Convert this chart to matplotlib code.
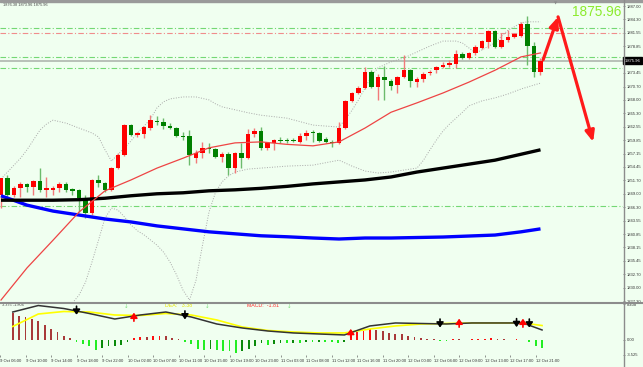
import matplotlib
matplotlib.use('Agg')
import matplotlib.pyplot as plt
import matplotlib.transforms as mtransforms
from matplotlib.patches import Rectangle
from matplotlib.lines import Line2D

plt.rcParams['font.family'] = ['Liberation Sans', 'DejaVu Sans']

# --- bougies H1, 9 Oct 08:00 -> 12 Oct 21:00 ---
opens = [1848.8, 1852.2, 1848.8, 1850.2, 1851.0, 1850.4, 1851.6, 1849.8, 1849.8, 1850.2,
         1851.0, 1850.0, 1849.8, 1847.7, 1845.1, 1851.8, 1851.2, 1849.8, 1854.2, 1856.9,
         1862.9, 1860.9, 1861.1, 1862.3, 1863.7, 1863.5, 1862.7, 1862.3, 1860.7, 1860.7,
         1856.2, 1857.2, 1858.3, 1858.1, 1856.4, 1857.0, 1854.2, 1857.2, 1856.2, 1861.1,
         1861.7, 1858.3, 1859.3, 1859.9, 1859.9, 1859.9, 1859.5, 1860.7, 1861.5, 1861.3,
         1860.1, 1859.5, 1859.3, 1862.3, 1867.8, 1869.4, 1870.4, 1873.6, 1870.6, 1872.6,
         1871.8, 1871.0, 1872.6, 1874.0, 1871.6, 1872.2, 1873.4, 1874.0, 1874.7, 1875.1,
         1875.3, 1877.3, 1876.5, 1877.5, 1878.5, 1879.7, 1881.9, 1878.7, 1880.1, 1880.7,
         1880.9, 1883.4, 1878.9, 1873.6]
highs = [1852.2, 1852.8, 1850.6, 1851.4, 1851.2, 1851.8, 1854.2, 1852.4, 1850.6, 1851.4,
         1851.4, 1850.2, 1850.0, 1848.8, 1852.0, 1852.8, 1851.4, 1854.4, 1857.2, 1863.1,
         1863.1, 1861.5, 1862.7, 1864.9, 1864.7, 1864.3, 1863.3, 1862.5, 1861.5, 1861.9,
         1857.9, 1859.5, 1859.3, 1858.3, 1857.4, 1857.4, 1857.4, 1859.3, 1862.1, 1862.3,
         1862.5, 1859.5, 1860.1, 1860.5, 1860.3, 1860.3, 1861.3, 1861.9, 1861.9, 1861.5,
         1860.5, 1859.9, 1863.5, 1868.0, 1869.6, 1870.8, 1874.7, 1874.0, 1873.2, 1874.9,
         1872.2, 1872.8, 1877.1, 1874.3, 1872.6, 1873.6, 1874.0, 1874.9, 1875.7, 1876.1,
         1878.1, 1877.7, 1877.7, 1879.1, 1880.1, 1882.1, 1882.1, 1881.5, 1882.1, 1881.5,
         1883.8, 1885.0, 1879.7, 1876.38]
lows = [1846.1, 1848.4, 1848.4, 1848.4, 1849.4, 1848.8, 1849.4, 1848.4, 1848.8, 1849.4,
        1849.4, 1848.8, 1845.3, 1844.1, 1844.7, 1850.4, 1849.4, 1849.6, 1854.0, 1856.6,
        1860.7, 1860.5, 1860.3, 1861.9, 1862.9, 1862.1, 1862.1, 1860.5, 1859.9, 1854.8,
        1855.2, 1856.2, 1857.2, 1856.2, 1855.4, 1852.8, 1853.2, 1854.2, 1856.0, 1860.5,
        1857.9, 1857.9, 1857.9, 1859.3, 1859.3, 1859.5, 1859.3, 1859.9, 1859.5, 1859.5,
        1859.3, 1858.5, 1859.1, 1862.1, 1867.6, 1869.2, 1870.2, 1870.4, 1868.0, 1868.0,
        1870.0, 1869.4, 1872.4, 1870.6, 1870.6, 1871.6, 1873.0, 1873.4, 1874.5, 1874.7,
        1874.5, 1876.3, 1876.3, 1877.1, 1878.3, 1878.5, 1878.5, 1878.5, 1879.7, 1880.5,
        1880.7, 1875.1, 1872.6, 1873.0]
closes = [1852.2, 1848.8, 1850.2, 1851.0, 1850.4, 1851.6, 1849.8, 1850.2, 1850.2, 1851.0,
          1849.8, 1849.6, 1848.1, 1845.1, 1851.8, 1851.2, 1849.8, 1854.2, 1856.9, 1862.9,
          1860.9, 1861.3, 1862.5, 1863.9, 1863.5, 1862.7, 1862.3, 1860.7, 1860.5, 1856.8,
          1857.2, 1858.3, 1858.1, 1856.4, 1857.0, 1854.2, 1857.2, 1856.2, 1861.1, 1861.7,
          1858.3, 1859.3, 1859.9, 1859.7, 1859.7, 1859.7, 1860.7, 1861.3, 1861.3, 1859.7,
          1859.5, 1859.3, 1862.3, 1867.8, 1869.4, 1870.4, 1873.6, 1870.6, 1872.6, 1872.0,
          1870.8, 1872.6, 1874.0, 1871.8, 1872.2, 1873.2, 1873.6, 1874.7, 1875.1, 1875.5,
          1877.3, 1876.5, 1877.5, 1878.7, 1879.9, 1881.9, 1878.7, 1880.1, 1880.7, 1881.3,
          1883.4, 1878.9, 1873.6, 1875.96]

# moyennes mobiles (lues toutes les 4 bougies)
line_bars = list(range(0, 84, 4)) + [83]
ma_red = [1827.5, 1834.0, 1839.6, 1845.3, 1849.6, 1851.8, 1854.2, 1856.2, 1858.3, 1859.3, 1859.5,
          1859.0, 1858.7, 1859.5, 1862.3, 1865.5, 1867.4, 1869.4, 1871.6, 1874.0, 1876.7, 1877.5]
ma_black = [1847.7, 1847.7, 1847.7, 1847.8, 1848.1, 1848.6, 1849.0, 1849.2, 1849.6, 1849.8, 1850.1,
            1850.5, 1851.0, 1851.4, 1851.8, 1852.4, 1853.4, 1854.2, 1855.0, 1855.8, 1857.0, 1857.9]
ma_blue = [1848.6, 1846.7, 1845.5, 1844.7, 1843.9, 1843.3, 1842.5, 1841.9, 1841.3, 1840.9, 1840.5,
           1840.3, 1840.05, 1839.85, 1840.05, 1840.05, 1840.15, 1840.25, 1840.45, 1840.65, 1841.3, 1841.9]

# bandes de Bollinger
bb_up_bars = [0, 1, 2, 3, 4, 5, 6, 7, 8, 10, 12, 14, 15, 16, 17, 18, 19, 20, 21, 22, 23, 24, 25, 26,
              28, 30, 32, 33, 34, 36, 38, 40, 44, 48, 52, 53, 54, 55, 56, 57, 58, 60, 62, 64, 66, 68,
              70, 71, 72, 73, 74, 75, 76, 77, 78, 79, 80, 81, 83]
bb_up = [1852.0, 1853.4, 1854.8, 1856.2, 1857.9, 1859.9, 1861.9, 1863.1, 1863.9, 1863.3, 1862.3,
         1861.3, 1860.5, 1857.9, 1855.6, 1857.0, 1858.3, 1859.7, 1861.3, 1862.7, 1864.1, 1866.4,
         1867.6, 1868.2, 1868.6, 1868.6, 1868.0, 1867.2, 1866.6, 1866.0, 1865.4, 1864.9, 1864.3,
         1862.9, 1862.5, 1864.1, 1865.9, 1868.0, 1870.4, 1872.8, 1874.5, 1875.7, 1876.5, 1877.7,
         1878.9, 1879.9, 1879.9, 1879.5, 1878.5, 1877.5, 1878.1, 1878.9, 1879.5, 1880.9, 1882.1,
         1882.8, 1883.6, 1883.8, 1883.8]
bb_low_bars = [11, 12, 13, 14, 15, 16, 17, 18, 19, 20, 21, 22, 24, 25, 26, 27, 28, 29, 30, 31, 32,
               33, 34, 35, 36, 38, 40, 44, 48, 52, 54, 56, 58, 60, 62, 64, 65, 66, 67, 68, 69, 70,
               71, 72, 74, 76, 78, 80, 82, 83]
bb_low = [1826.9, 1828.5, 1831.1, 1835.2, 1839.6, 1844.1, 1846.1, 1845.7, 1844.3, 1842.7, 1841.5,
          1840.7, 1838.6, 1837.2, 1835.2, 1832.6, 1829.5, 1827.5, 1831.5, 1838.6, 1845.3, 1849.3,
          1851.4, 1852.6, 1853.4, 1854.0, 1854.2, 1854.6, 1854.8, 1855.8, 1854.6, 1853.6, 1853.2,
          1853.4, 1853.8, 1854.2, 1855.8, 1857.9, 1859.9, 1861.7, 1863.1, 1864.3, 1865.5, 1866.8,
          1867.8, 1868.4, 1869.2, 1870.2, 1871.0, 1871.4]

# niveaux horizontaux
green_levels = [1882.55, 1876.7, 1874.45, 1846.5]
red_levels = [1881.5]
bid = 1875.96

# fleche de prevision
forecast_bars = [83.4, 85.7, 91.1]
forecast_prices = [1876.1, 1884.8, 1859.5]

# MACD
macd_hist = [6.3, 5.7, 5.45, 4.9, 4.4, 3.6, 2.6, 1.8, 1.0, 0.47,
             -0.4, -0.9, -1.5, -2.3, -1.9, -1.5, -1.3, -1.1, -0.5,
             0.45, 0.8, 0.8, 0.85, 1.0, 0.85, 0.45, 0.15,
             -0.5, -0.9, -2.1, -2.3, -2.1, -2.3, -2.6, -2.6, -3.0, -2.6, -2.1, -1.3, -0.8, -1.1,
             -0.9, -0.8, -0.8, -0.7, -0.7, -0.5, -0.5, -0.4, -0.4, -0.5, -0.7, -0.4,
             1.4, 1.8, 2.2, 2.6, 2.3, 2.0, 1.6, 1.4, 1.4, 1.0, 0.6, 0.4, 0.25, 0.15,
             -0.15, -0.15,
             0.15, 0.15, 0.1, 0.15, 0.2, 0.3, 0.45, 0.2, 0.15, 0.1, 0.15, 0.1,
             -0.5, -1.3, -1.9]
macd_dif = [6.55, 8.07, 7.37, 6.2, 4.91, 5.85, 6.55, 5.38, 3.74, 2.8, 2.1,
            1.64, 1.4, 1.17, 3.28, 3.98, 3.86, 3.74, 3.98, 3.98, 3.98, 2.34]
macd_dea = [3.16, 6.08, 6.67, 6.55, 5.85, 5.73, 6.2, 5.85, 4.68, 3.04, 2.22,
            1.87, 1.64, 1.64, 2.57, 3.28, 3.74, 3.86, 3.98, 3.98, 3.98, 3.38]
sell_bars = [10, 27, 67, 79, 81]
sell_vals = [6.9, 5.8, 3.9, 4.0, 3.9]
buy_bars = [19, 53, 70, 80]
buy_vals = [5.4, 1.6, 4.0, 4.0]

# axe du temps
tick_bars = list(range(-2, 84, 4))
tick_labels = ['9 Oct 06:00', '9 Oct 10:00', '9 Oct 14:00', '9 Oct 18:00', '9 Oct 22:00',
               '10 Oct 02:00', '10 Oct 07:00', '10 Oct 11:00', '10 Oct 15:00', '10 Oct 19:00',
               '10 Oct 23:00', '11 Oct 03:00', '11 Oct 08:00', '11 Oct 12:00', '11 Oct 16:00',
               '11 Oct 20:00', '12 Oct 00:00', '12 Oct 04:00', '12 Oct 09:00', '12 Oct 13:00',
               '12 Oct 17:00', '12 Oct 21:00']
# 1876.15 est cache par l'etiquette noire du prix courant
price_ticks = [1887.00, 1884.30, 1881.55, 1878.85, 1873.45, 1870.70, 1868.00, 1865.30,
               1862.55, 1859.85, 1857.15, 1854.45, 1851.70, 1849.00, 1846.30, 1843.55, 1840.85,
               1838.15, 1835.45, 1832.70, 1830.00, 1827.30]
macd_ticks = [8.408, 0.0, -3.525]
macd_tick_labels = ['8.408', '0.00', '-3.525']

BG = '#F0FFF0'
W, H = 643, 367
fig = plt.figure(figsize=(W / 100, H / 100), dpi=100, facecolor=BG)

# panneau principal (pixels 2..302 en hauteur, 0..623 en largeur)
ax = fig.add_axes([0, (H - 302) / H, 623 / W, 300 / H], facecolor=BG)
ax2 = fig.add_axes([0, (H - 355) / H, 623 / W, 52 / H], facecolor=BG)

xlim = (-1 / 6.5, 622 / 6.5)
for a in (ax, ax2):
    a.set_xlim(*xlim)
    for s in a.spines.values():
        s.set_visible(False)
ax.set_ylim(1827.1, 1887.81)
ax2.set_ylim(-3.51, 8.66)

# niveaux
for lv in green_levels:
    ax.axhline(lv, color='#74D874', lw=0.8, ls=(0, (5, 2, 1, 2)), zorder=1)
for lv in red_levels:
    ax.axhline(lv, color='#F08C8C', lw=0.8, ls=(0, (5, 2, 1, 2)), zorder=1)
ax.axhline(bid, color='#AEB6AE', lw=1.2, zorder=1)

# Bollinger
ax.plot(bb_up_bars, bb_up, color='#A8A8A8', lw=0.7, ls=(0, (1, 1.6)), zorder=2)
ax.plot(bb_low_bars, bb_low, color='#A8A8A8', lw=0.7, ls=(0, (1, 1.6)), zorder=2)

# bougies
for i in range(len(opens)):
    o, h, l, c = opens[i], highs[i], lows[i], closes[i]
    up = c >= o
    ax.vlines(i, l, h, color='#F27A7A' if up else '#6CBB6C', lw=1, zorder=3)
    ax.bar(i, max(abs(c - o), 0.25), bottom=min(o, c), width=0.75,
           color='#FF0000' if up else '#008000', lw=0, zorder=4)

# moyennes
ax.plot(line_bars, ma_blue, color='#0000FF', lw=2.4, zorder=5, solid_capstyle='butt')
ax.plot(line_bars, ma_black, color='#000000', lw=2.4, zorder=5, solid_capstyle='butt')
ax.plot(line_bars, ma_red, color='#EE4444', lw=0.9, zorder=5)

# fleche de prevision
for k in range(2):
    ax.annotate('', xy=(forecast_bars[k + 1], forecast_prices[k + 1]),
                xytext=(forecast_bars[k], forecast_prices[k]),
                arrowprops=dict(arrowstyle='-|>,head_length=0.7,head_width=0.3', color='#FF1A1A',
                                lw=2.3, mutation_scale=9, shrinkA=0, shrinkB=0), zorder=6)

# axe des prix a droite
ax.yaxis.tick_right()
ax.set_yticks(price_ticks)
ax.set_yticklabels(['%.2f' % p for p in price_ticks])
ax.tick_params(axis='y', labelsize=3, length=1.5, width=0.5, color='#666666', pad=1.5, labelcolor='#333333')
ax.set_xticks([])
trans = mtransforms.blended_transform_factory(ax.transAxes, ax.transData)
ax.text(1.003, bid, '1875.96 ', transform=trans, fontsize=3, color='white', va='center', ha='left',
        bbox=dict(boxstyle='square,pad=0.35', fc='black', ec='black'), zorder=10, clip_on=False)

# MACD
for i, v in enumerate(macd_hist):
    prev = macd_hist[i - 1] if i > 0 else v
    if v >= 0:
        col = '#FF1010' if v > prev else '#A83A3A'
    else:
        col = '#0A8A0A' if v > prev else '#22EE22'
    ax2.bar(i, v, width=0.28, color=col, lw=0, zorder=2)
ax2.plot(line_bars, macd_dea, color='#FFFF00', lw=1.2, zorder=3)
ax2.plot(line_bars, macd_dif, color='#333333', lw=1.1, zorder=4)
for b, v in zip(sell_bars, sell_vals):
    ax2.annotate('', xy=(b, v - 1.0), xytext=(b, v + 1.0),
                 arrowprops=dict(arrowstyle='-|>,head_length=0.5,head_width=0.35', color='black',
                                 lw=1.2, mutation_scale=6, shrinkA=0, shrinkB=0), zorder=6)
for b, v in zip(buy_bars, buy_vals):
    ax2.annotate('', xy=(b, v + 1.0), xytext=(b, v - 1.0),
                 arrowprops=dict(arrowstyle='-|>,head_length=0.5,head_width=0.35', color='#FF0000',
                                 lw=1.2, mutation_scale=6, shrinkA=0, shrinkB=0), zorder=6)

ax2.text(2 / 623, 0.955, '3.375 -1.806', transform=ax2.transAxes, fontsize=2.8, color='#444444', va='center')
ax2.text(165 / 623, 0.955, 'DEA:   3.38', transform=ax2.transAxes, fontsize=3.8, color='#E6E600', va='center')
ax2.text(247 / 623, 0.955, 'MACD:  -1.81', transform=ax2.transAxes, fontsize=3.8, color='#FF3030', va='center')
for fx in (126 / 623, 207 / 623, 289 / 623):
    ax2.text(fx, 0.93, '↓', transform=ax2.transAxes, fontsize=4, color='#7FE07F', va='center', ha='center',
             family='DejaVu Sans')

ax2.yaxis.tick_right()
ax2.set_yticks(macd_ticks)
ax2.set_yticklabels(macd_tick_labels)
ax2.tick_params(axis='y', labelsize=3, length=1.5, width=0.5, color='#666666', pad=1.5, labelcolor='#333333')
ax2.set_xticks(tick_bars)
ax2.set_xticklabels(tick_labels, ha='left')
ax2.tick_params(axis='x', labelsize=3, length=1.5, width=0.5, color='#666666', pad=1.2, labelcolor='#333333')

# decor: bandeau haut, separateurs, textes
fig.patches.append(Rectangle((0, (H - 2) / H), 1, 2 / H, transform=fig.transFigure, color='#9A9A9A'))
fig.lines.append(Line2D([0, 1], [(H - 302.5) / H] * 2, transform=fig.transFigure, color='#8C8C8C', lw=1.5))
fig.lines.append(Line2D([623.5 / W] * 2, [0, 1], transform=fig.transFigure, color='#8C8C8C', lw=1.0))
fig.text(3 / W, 1 - 5.5 / H, '1876.38 1873.96 1875.96', fontsize=2.8, color='#444444', va='center')
fig.text(572 / W, 1 - 12.5 / H, '1875.96', fontsize=9.8, color='#8CEB2C', va='center', ha='left')
fig.text(556 / W, 1 - 3.5 / H, '▼', fontsize=3, color='#8A8A8A', va='center', ha='center', family='DejaVu Sans')

fig.savefig('out.png', dpi=100, facecolor=BG)
